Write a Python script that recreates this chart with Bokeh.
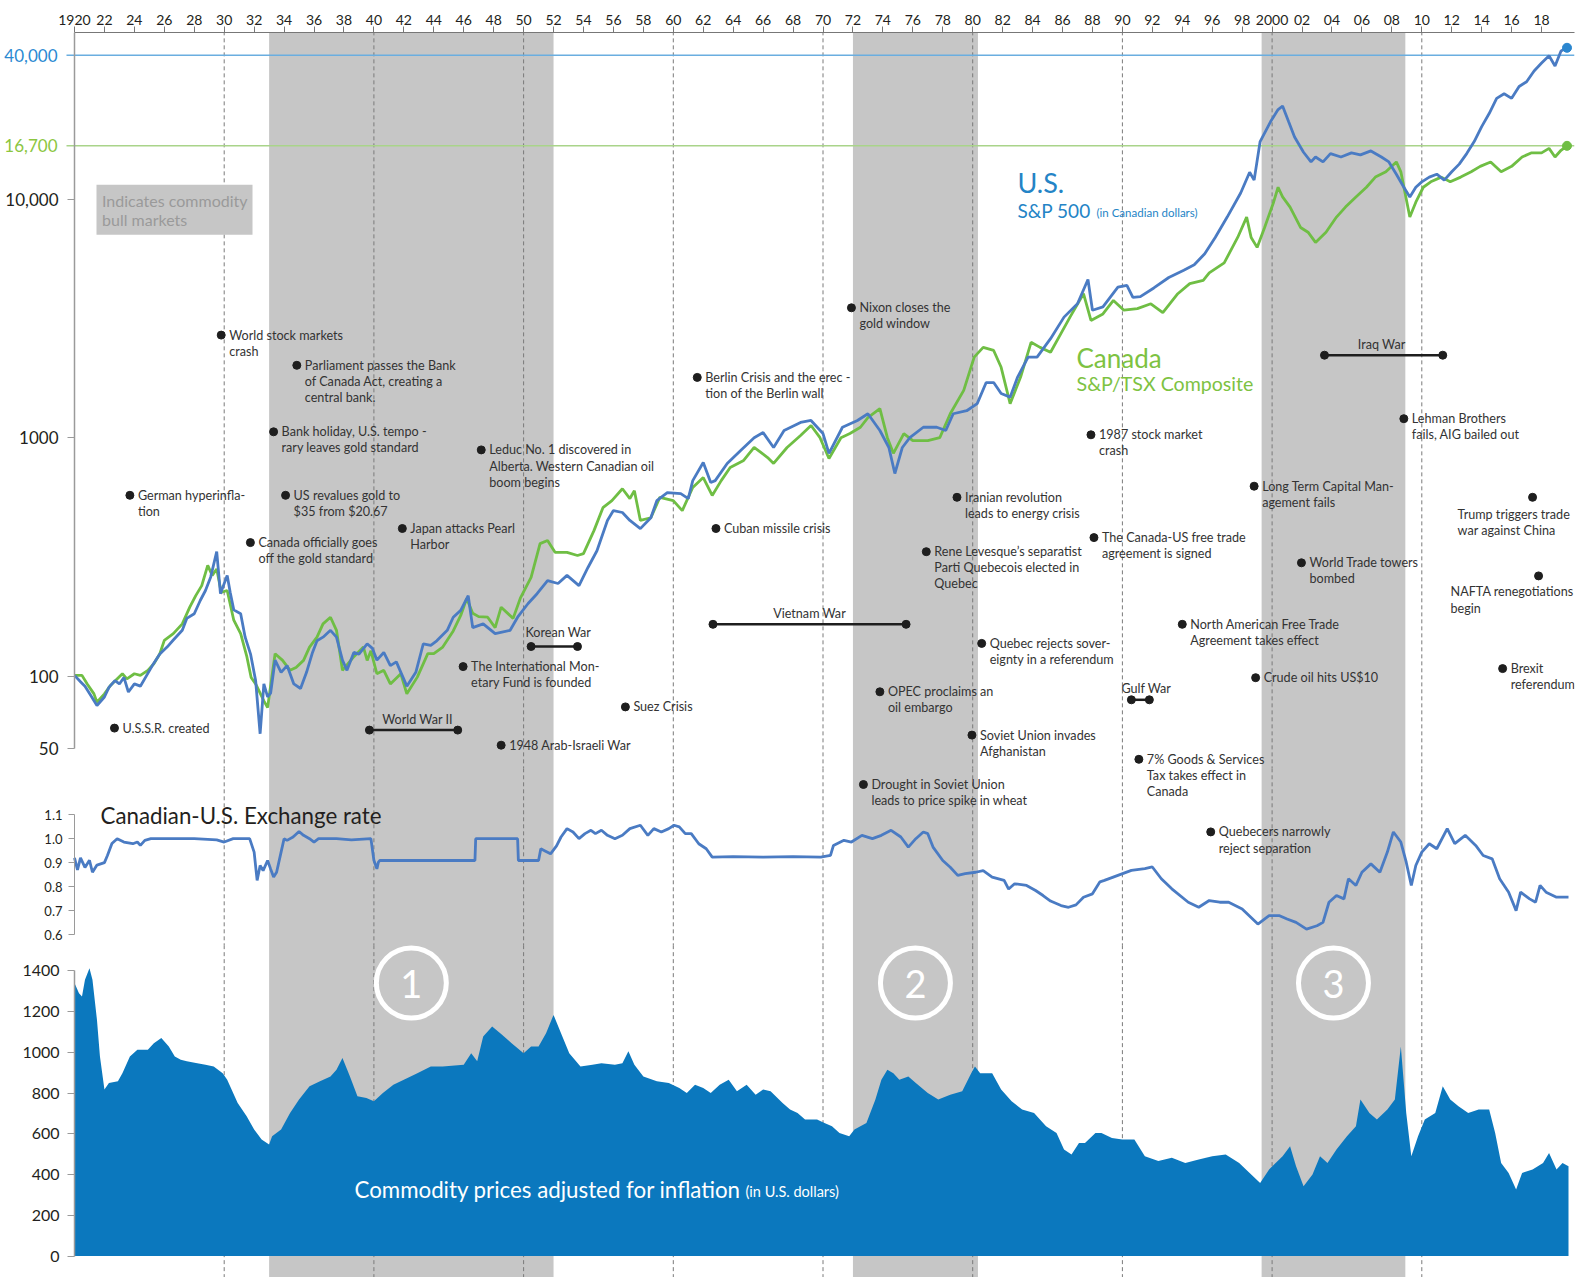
from bokeh.plotting import figure
from bokeh.models import (Range1d, LinearScale, FixedTicker,
                          ColumnDataSource, PrintfTickFormatter)
from bokeh.layouts import column
from bokeh.embed import file_html
from bokeh.resources import INLINE
from bokeh.core.properties import value

# ------------------------------------------------------------------ data
axis_years = list(range(1920, 2019, 2))
axis_labels = {y: (str(y) if y in (1920, 2000) else "%02d" % (y % 100)) for y in axis_years}
decade_lines = [1930, 1940, 1950, 1960, 1970, 1980, 1990, 2000, 2010]
bull_start = [1933.0, 1972.0, 1999.3]
bull_end = [1952.0, 1980.35, 2008.9]
bull_labels = ["1", "2", "3"]

ref_levels = [40000, 16700]
ref_labels = ["40,000", "16,700"]

us_year = [1920.0, 1920.4, 1920.7, 1921.1, 1921.5, 1922.0, 1922.3, 1922.7, 1923.0, 1923.3,
           1923.6, 1924.0, 1924.4, 1924.9, 1925.2, 1925.7, 1926.2, 1926.6, 1927.2, 1927.5,
           1928.0, 1928.4, 1928.75, 1929.1, 1929.5, 1929.75, 1930.2, 1930.4, 1930.64, 1931.1,
           1931.4, 1931.76, 1932.1, 1932.4, 1932.65, 1932.9, 1933.1, 1933.4, 1933.8, 1934.2,
           1934.65, 1935.1, 1935.5, 1935.9, 1936.2, 1936.6, 1937.1, 1937.5, 1937.9, 1938.2,
           1938.66, 1939.0, 1939.55, 1939.9, 1940.2, 1940.66, 1941.1, 1941.5, 1941.8, 1942.2,
           1942.8, 1943.3, 1943.8, 1944.2, 1944.9, 1945.3, 1945.8, 1946.3, 1946.6, 1947.3,
           1948.1, 1949.1, 1949.6, 1950.3, 1950.9, 1951.6, 1952.3, 1952.9, 1953.7, 1954.3,
           1954.9, 1955.6, 1956.0, 1956.6, 1957.1, 1957.8, 1958.5, 1958.9, 1959.6, 1960.5,
           1961.0, 1961.3, 1962.0, 1962.5, 1962.8, 1963.6, 1964.5, 1965.4, 1966.0, 1966.7,
           1967.4, 1968.5, 1969.2, 1970.0, 1970.4, 1971.3, 1972.3, 1973.0, 1973.8, 1974.4,
           1974.8, 1975.3, 1975.8, 1976.7, 1977.6, 1978.2, 1978.7, 1979.6, 1980.3, 1980.9,
           1981.4, 1981.9, 1982.5, 1983.0, 1983.7, 1984.3, 1985.2, 1986.1, 1987.0, 1987.7,
           1988.0, 1988.7, 1989.7, 1990.3, 1990.7, 1991.2, 1992.1, 1993.1, 1994.1, 1994.8,
           1995.5, 1996.2, 1997.0, 1997.9, 1998.5, 1998.8, 1999.2, 1999.9, 2000.4, 2000.7,
           2001.1, 2001.5, 2002.1, 2002.6, 2002.9, 2003.4, 2003.9, 2004.6, 2005.3, 2005.9,
           2006.6, 2007.3, 2007.8, 2008.3, 2008.8, 2009.2, 2009.6, 2010.0, 2010.5, 2011.0,
           2011.5, 2012.0, 2012.5, 2013.0, 2013.5, 2014.0, 2014.5, 2015.0, 2015.5, 2016.0,
           2016.5, 2017.0, 2017.5, 2018.0, 2018.5, 2018.9, 2019.3, 2019.7]
us_value = [101, 95, 91, 83, 75.5, 82, 90, 96, 93, 99,
            86, 93, 91, 103, 111, 124, 133, 142, 156, 175,
            183, 208, 229, 261, 333, 222, 265, 225, 190, 183,
            146, 124, 96, 57.5, 93, 82, 85, 117, 104, 111,
            93, 89, 104, 126, 141, 146, 156, 146, 117, 106,
            126, 124, 137, 131, 117, 126, 111, 115, 104, 91,
            104, 137, 135, 141, 156, 177, 189, 218, 160, 166,
            151, 156, 177, 202, 222, 252, 245, 265, 240, 286,
            336, 450, 495, 486, 450, 416, 462, 545, 589, 583,
            556, 661, 787, 649, 661, 780, 884, 1000, 1051, 910,
            1072, 1158, 1181, 1041, 860, 1106, 1181, 1260, 1072, 910,
            708, 910, 1000, 1106, 1106, 1072, 1260, 1297, 1389, 1702,
            1702, 1531, 1479, 1795, 2175, 2175, 2600, 3200, 3640, 4600,
            3420, 3530, 4270, 4350, 3870, 3900, 4240, 4690, 5030, 5300,
            5900, 6900, 8400, 10600, 12950, 12000, 17400, 21100, 23700, 24500,
            21100, 18200, 15700, 14300, 15000, 14300, 15500, 15000, 15600, 15300,
            15900, 15000, 14300, 12700, 11200, 10200, 11200, 11800, 12350, 12700,
            12000, 13000, 14000, 15500, 17400, 20100, 22800, 26400, 27600, 26400,
            29600, 31000, 34400, 37100, 39800, 36100, 41700, 43000]

ca_year = [1920.0, 1920.5, 1920.85, 1921.3, 1921.5, 1922.0, 1922.4, 1923.2, 1923.5, 1924.0,
           1924.4, 1924.9, 1925.3, 1925.7, 1926.0, 1926.6, 1927.2, 1927.7, 1928.1, 1928.5,
           1928.9, 1929.2, 1929.5, 1929.8, 1930.2, 1930.64, 1931.1, 1931.5, 1931.8, 1932.1,
           1932.65, 1932.9, 1933.4, 1933.9, 1934.4, 1934.8, 1935.3, 1935.7, 1936.2, 1936.6,
           1937.1, 1937.5, 1937.9, 1938.66, 1939.3, 1939.55, 1939.8, 1940.2, 1940.66, 1941.1,
           1941.8, 1942.2, 1942.9, 1943.6, 1944.0, 1944.6, 1945.3, 1945.8, 1946.2, 1946.6,
           1947.0, 1947.6, 1948.1, 1948.5, 1949.3, 1949.8, 1950.5, 1951.1, 1951.6, 1952.1,
           1952.9, 1953.6, 1954.0, 1954.7, 1955.3, 1955.9, 1956.6, 1957.1, 1957.4, 1957.8,
           1958.5, 1959.1, 1960.0, 1960.6, 1961.3, 1962.0, 1962.6, 1963.2, 1963.8, 1964.7,
           1965.4, 1966.3, 1966.7, 1967.6, 1968.5, 1969.2, 1969.8, 1970.4, 1971.2, 1971.8,
           1972.5, 1973.0, 1973.8, 1974.3, 1974.7, 1975.4, 1976.0, 1977.0, 1977.8, 1978.5,
           1979.4, 1980.1, 1980.7, 1981.4, 1981.9, 1982.5, 1983.2, 1983.9, 1984.5, 1985.2,
           1985.9, 1986.5, 1987.4, 1987.9, 1988.7, 1989.4, 1990.1, 1991.0, 1991.9, 1992.7,
           1993.7, 1994.5, 1995.4, 1995.8, 1996.8, 1997.7, 1998.3, 1998.6, 1999.0, 1999.5,
           2000.1, 2000.4, 2000.7, 2001.2, 2001.9, 2002.4, 2002.9, 2003.6, 2004.3, 2004.9,
           2005.6, 2006.3, 2006.9, 2007.6, 2008.3, 2008.6, 2009.2, 2009.6, 2010.1, 2010.6,
           2011.3, 2011.9, 2012.6, 2013.3, 2013.9, 2014.6, 2015.3, 2016.0, 2016.7, 2017.3,
           2018.0, 2018.5, 2018.9, 2019.3, 2019.7]
ca_value = [101, 101, 93, 84.5, 78, 84.5, 91.6, 102.6, 97.7, 102.6,
            101, 106, 113, 124.5, 141.6, 151, 166, 195, 218, 240,
            292, 265, 282, 225, 229, 172, 151, 122, 99, 93,
            79, 74, 124.5, 116.7, 106, 109, 116.7, 132.7, 146, 166,
            177, 156, 106, 121, 132.7, 116.7, 128, 102.6, 106, 93,
            102.6, 84.5, 99.3, 124.5, 124.5, 132.7, 155, 180, 212, 184,
            178, 177, 160, 195, 175, 214, 260, 360, 371, 331,
            331, 321, 327, 408, 509, 545, 611, 556, 600, 450,
            462, 562, 545, 495, 619, 681, 573, 661, 750, 803,
            910, 826, 780, 910, 1021, 1125, 1000, 818, 1000, 1041,
            1106, 1213, 1324, 1000, 860, 1041, 973, 973, 1000, 1260,
            1578, 2175, 2390, 2320, 1972, 1389, 1795, 2510, 2390, 2280,
            2737, 3200, 4010, 3100, 3300, 3760, 3420, 3475, 3640, 3340,
            4010, 4420, 4560, 4900, 5400, 6900, 8400, 6900, 6270, 7600,
            9700, 11200, 10200, 9250, 7600, 7260, 6580, 7260, 8400, 9250,
            10200, 11200, 12350, 13000, 14300, 13000, 8400, 9700, 11200, 11800,
            12350, 11800, 12350, 13000, 13700, 14300, 13000, 13700, 15000, 15600,
            15600, 16300, 15000, 16000, 16700]

fx_year = [1920.0, 1920.2, 1920.4, 1920.7, 1921.0, 1921.2, 1921.5, 1922.0, 1922.2, 1922.5,
           1922.85, 1923.3, 1923.9, 1924.2, 1924.4, 1924.7, 1925.1, 1926.5, 1928.0, 1929.5,
           1930.0, 1930.6, 1931.7, 1932.0, 1932.2, 1932.4, 1932.6, 1932.9, 1933.1, 1933.3,
           1933.5, 1933.8, 1934.0, 1934.2, 1934.6, 1935.0, 1935.3, 1935.7, 1936.0, 1936.3,
           1937.5, 1938.5, 1939.8, 1940.0, 1940.2, 1940.3, 1940.4, 1946.75, 1946.8, 1949.6,
           1949.65, 1951.0, 1951.15, 1951.4, 1951.8, 1952.2, 1952.5, 1952.9, 1953.3, 1953.7,
           1954.1, 1954.5, 1954.8, 1955.2, 1955.6, 1956.1, 1956.6, 1957.1, 1957.8, 1958.3,
           1958.7, 1959.2, 1959.7, 1960.05, 1960.4, 1960.8, 1961.2, 1961.7, 1962.2, 1962.6,
           1964.0, 1966.0, 1968.0, 1969.85, 1970.5, 1970.7, 1971.4, 1971.9, 1972.6, 1973.3,
           1973.9, 1974.55, 1975.2, 1975.7, 1976.2, 1976.7, 1977.0, 1977.35, 1978.0, 1978.5,
           1979.0, 1979.5, 1980.2, 1980.7, 1981.3, 1982.1, 1982.4, 1982.8, 1983.6, 1984.2,
           1984.7, 1985.2, 1985.9, 1986.4, 1986.9, 1987.4, 1988.0, 1988.5, 1988.8, 1989.7,
           1990.6, 1991.5, 1992.0, 1992.6, 1993.3, 1994.4, 1995.1, 1995.8, 1996.5, 1997.1,
           1998.0, 1998.7, 1999.05, 1999.8, 2000.5, 2001.0, 2001.6, 2002.3, 2003.0, 2003.4,
           2003.8, 2004.3, 2004.8, 2005.1, 2005.6, 2006.0, 2006.6, 2007.2, 2007.7, 2008.1,
           2008.6, 2008.96, 2009.3, 2009.6, 2010.0, 2010.5, 2011.0, 2011.7, 2012.2, 2012.9,
           2013.6, 2014.1, 2014.7, 2015.2, 2015.8, 2016.3, 2016.6, 2017.2, 2017.6, 2017.9,
           2018.3, 2019.0, 2019.8]
fx_value = [0.92, 0.87, 0.92, 0.88, 0.91, 0.86, 0.89, 0.90, 0.93, 0.98,
            1.0, 0.986, 0.979, 0.986, 0.972, 0.993, 1.0, 1.0, 1.0, 0.995,
            0.986, 1.0, 1.0, 0.944, 0.826, 0.888, 0.867, 0.909, 0.874, 0.84,
            0.86, 0.944, 1.0, 0.993, 1.007, 1.03, 1.014, 1.0, 0.986, 1.0,
            1.0, 0.995, 1.0, 0.91, 0.874, 0.902, 0.909, 0.909, 1.0, 1.0,
            0.909, 0.909, 0.958, 0.95, 0.937, 0.97, 1.007, 1.042, 1.028, 1.0,
            1.021, 1.035, 1.021, 1.035, 1.014, 1.0, 1.014, 1.042, 1.056, 1.014,
            1.042, 1.028, 1.042, 1.056, 1.049, 1.021, 1.021, 0.979, 0.958, 0.923,
            0.925, 0.923, 0.925, 0.923, 0.93, 0.972, 0.993, 0.986, 1.014, 1.0,
            1.014, 1.035, 1.007, 0.965, 1.0, 1.028, 1.021, 0.965, 0.909, 0.881,
            0.847, 0.854, 0.86, 0.867, 0.84, 0.826, 0.79, 0.812, 0.805, 0.784,
            0.763, 0.74, 0.721, 0.714, 0.724, 0.756, 0.77, 0.82, 0.826, 0.847,
            0.868, 0.875, 0.882, 0.833, 0.791, 0.735, 0.714, 0.742, 0.735, 0.735,
            0.707, 0.665, 0.644, 0.679, 0.679, 0.665, 0.651, 0.623, 0.637, 0.651,
            0.735, 0.763, 0.749, 0.833, 0.805, 0.860, 0.895, 0.860, 0.944, 1.028,
            0.986, 0.902, 0.805, 0.888, 0.944, 0.979, 0.958, 1.042, 0.979, 1.014,
            0.972, 0.930, 0.916, 0.833, 0.777, 0.700, 0.777, 0.749, 0.735, 0.805,
            0.777, 0.756, 0.756]

cm_year = [1920.0, 1920.3, 1920.5, 1920.7, 1921.0, 1921.2, 1921.5, 1921.7, 1922.0, 1922.3,
           1922.9, 1923.2, 1923.7, 1924.2, 1924.9, 1925.3, 1925.8, 1926.3, 1926.7, 1927.1,
           1927.5, 1928.2, 1928.75, 1929.3, 1929.9, 1930.2, 1930.9, 1931.5, 1932.0, 1932.5,
           1933.0, 1933.2, 1933.8, 1934.4, 1935.0, 1935.7, 1936.4, 1937.1, 1937.5, 1937.9,
           1938.4, 1938.9, 1939.5, 1940.0, 1940.6, 1941.3, 1942.0, 1942.9, 1943.8, 1944.6,
           1946.0, 1946.5, 1946.9, 1947.3, 1947.9, 1948.5, 1949.2, 1950.0, 1950.5, 1951.0,
           1951.5, 1952.0, 1952.5, 1953.05, 1953.8, 1954.6, 1955.2, 1956.1, 1956.6, 1957.0,
           1957.4, 1958.0, 1958.9, 1959.7, 1960.4, 1960.9, 1961.45, 1962.0, 1962.5, 1963.1,
           1963.7, 1964.25, 1964.9, 1965.5, 1966.0, 1966.5, 1967.3, 1967.8, 1968.3, 1968.8,
           1969.6, 1970.1, 1970.6, 1971.1, 1971.75, 1972.1, 1972.9, 1973.5, 1973.9, 1974.3,
           1974.7, 1975.1, 1975.7, 1976.2, 1977.0, 1977.7, 1978.5, 1979.3, 1979.9, 1980.15,
           1980.5, 1981.3, 1981.9, 1982.6, 1983.3, 1984.1, 1984.9, 1985.6, 1986.1, 1986.6,
           1987.1, 1987.5, 1988.2, 1988.6, 1989.3, 1990.0, 1990.8, 1991.5, 1992.4, 1993.3,
           1994.2, 1995.1, 1996.0, 1996.9, 1997.8, 1998.5, 1999.2, 1999.8, 2000.7, 2001.2,
           2001.6, 2002.1, 2002.7, 2003.2, 2003.7, 2004.3, 2005.0, 2005.6, 2005.9, 2006.5,
           2007.0, 2007.7, 2008.2, 2008.6, 2008.96, 2009.3, 2009.75, 2010.2, 2010.9, 2011.4,
           2011.9, 2012.45, 2013.1, 2013.8, 2014.5, 2014.9, 2015.3, 2015.8, 2016.3, 2016.7,
           2017.4, 2018.1, 2018.5, 2019.0, 2019.4, 2019.8]
cm_value = [1340, 1290, 1274, 1356, 1413, 1356, 1160, 980, 817, 850,
            858, 898, 980, 1013, 1013, 1045, 1070, 1029, 980, 964,
            956, 947, 939, 931, 898, 866, 751, 686, 621, 572,
            547, 588, 621, 702, 768, 833, 858, 882, 915, 972,
            882, 784, 776, 760, 800, 841, 866, 898, 931, 931,
            939, 996, 956, 1078, 1127, 1090, 1045, 996, 1029, 1029,
            1094, 1184, 1094, 996, 931, 939, 947, 939, 947, 1005,
            939, 882, 858, 850, 825, 800, 841, 825, 800, 841,
            866, 809, 841, 792, 817, 809, 751, 719, 702, 670,
            670, 653, 637, 604, 588, 621, 653, 768, 866, 915,
            898, 866, 882, 850, 800, 768, 792, 809, 898, 931,
            898, 898, 817, 760, 719, 702, 637, 604, 523, 498,
            555, 555, 604, 604, 580, 572, 572, 490, 466, 482,
            457, 474, 490, 498, 457, 408, 359, 425, 490, 539,
            441, 343, 400, 490, 457, 523, 588, 637, 768, 702,
            670, 719, 768, 1029, 702, 490, 588, 670, 702, 833,
            768, 735, 702, 719, 719, 604, 457, 408, 327, 408,
            425, 457, 506, 425, 457, 441]

war_names = ["World War II", "Korean War", "Vietnam War", "Gulf War", "Iraq War"]
war_start = [1939.7, 1950.5, 1962.65, 1990.6, 2003.5]
war_end = [1945.6, 1953.6, 1975.55, 1991.8, 2011.4]

event_year = [1929.8, 1934.85, 1933.3, 1947.17, 1923.7, 1934.1, 1941.9, 1931.75, 1945.96, 1922.67,
              1956.8, 1948.5, 1961.6, 1962.85, 1971.9, 1978.95, 1976.9, 1980.6, 1973.8, 1979.95,
              1972.7, 1987.9, 1988.1, 1994.0, 1991.1, 1998.8, 2001.96, 1998.9, 2008.8, 2017.4,
              2017.8, 2015.4, 1995.9]
event_text = [
    "World stock markets\ncrash",
    "Parliament passes the Bank\nof Canada Act, creating a\ncentral bank.",
    "Bank holiday, U.S. tempo -\nrary leaves gold standard",
    "Leduc No. 1 discovered in\nAlberta. Western Canadian oil\nboom begins",
    "German hyperinfla-\ntion",
    "US revalues gold to\n$35 from $20.67",
    "Japan attacks Pearl\nHarbor",
    "Canada officially goes\noff the gold standard",
    "The International Mon-\netary Fund is founded",
    "U.S.S.R. created",
    "Suez Crisis",
    "1948 Arab-Israeli War",
    "Berlin Crisis and the erec -\ntion of the Berlin wall",
    "Cuban missile crisis",
    "Nixon closes the\ngold window",
    "Iranian revolution\nleads to energy crisis",
    "Rene Levesque\u2019s separatist\nParti Quebecois elected in\nQuebec",
    "Quebec rejects sover-\neignty in a referendum",
    "OPEC proclaims an\noil embargo",
    "Soviet Union invades\nAfghanistan",
    "Drought in Soviet Union\nleads to price spike in wheat",
    "1987 stock market\ncrash",
    "The Canada-US free trade\nagreement is signed",
    "North American Free Trade\nAgreement takes effect",
    "7% Goods & Services\nTax takes effect in\nCanada",
    "Long Term Capital Man-\nagement fails",
    "World Trade towers\nbombed",
    "Crude oil hits US$10",
    "Lehman Brothers\nfails, AIG bailed out",
    "Trump triggers trade\nwar against China",
    "NAFTA renegotiations\nbegin",
    "Brexit\nreferendum",
    "Quebecers narrowly\nreject separation",
]

# ------------------------------------------------------------------ layout / style
FONT = "Lato"
W = 1576
FL, FR = 74, 1574                 # x of 1920 / frame right (page px)
PX_PER_YEAR = 14.97
A_T, A_B = 32, 768                # stock panel canvas frame (page px)
B_T, B_B = 767, 945               # exchange panel (overlaps A by 1px, drawn beneath it)
C_T, C_B = 944, 1277              # commodity panel (overlaps B by 1px)
SPLIT_AB, SPLIT_BC = 767, 944
Y10K, DECADE = 198.5, 238.7       # page px of 10,000 and px per decade
FX11, FX_PX = 814.2, 239.8        # page px of 1.1 and px per 1.0
CM0, CM_PX = 1255.5, 285.1 / 1400 # page px of 0 and px per unit

US_BLUE = "#4a7bc3"
CA_GREEN = "#6fbe44"
AREA = "#0b78be"
BAND = "#c6c6c6"
DASH = "#7a7a7a"
TXT = "#333333"
AXC = "#9a9a9a"
DARK = "#231f20"
DOT = "#1e1e1e"
ANN_SIZE = "12.6px"

ev_ypx = [334.6, 364.8, 431.3, 449.4, 494.8, 494.8, 528.0, 542.1, 666.1, 727.6,
          706.4, 744.7, 376.9, 528.0, 307.3, 496.8, 551.2, 642.9, 691.3, 734.6,
          784.0, 434.3, 537.1, 623.8, 758.8, 485.7, 562.3, 677.2, 418.2, 496.8,
          575.4, 668.1, 831.4]
ev_dx = [8] * len(event_year)
ev_dy = [0] * len(event_year)
ev_dx[29], ev_dy[29] = -75, 17
ev_dx[30], ev_dy[30] = -88, 16
LINE_H = 16.1

war_ypx = [729.6, 646.0, 623.8, 699.3, 354.7]
war_label_ypx = [718.5, 631.8, 612.7, 688.3, 343.6]
war_label_dx = [4, 4, 0, 6, -2]

X0 = 1920.0
xr = Range1d(X0 - FL / PX_PER_YEAR, X0 + (FR - FL) / PX_PER_YEAR)


def base_fig(height, ylo, yhi, blo, bhi, f_top, f_bot, log=False, above=False, top_border=0):
    p = figure(width=W, height=height, x_range=xr, y_range=Range1d(ylo, yhi),
               y_axis_type="log" if log else "linear",
               x_axis_location="above" if above else None,
               output_backend="svg", toolbar_location=None,
               min_border_left=0, min_border_right=W - FR,
               min_border_top=top_border, min_border_bottom=0)
    p.outline_line_color = None
    p.background_fill_color = "white"
    p.border_fill_color = "white"
    p.xgrid.visible = False
    p.ygrid.visible = False
    p.extra_x_ranges = {"px": Range1d(0, FR)}
    p.extra_y_ranges = {"py": Range1d(f_bot, f_top)}
    p.extra_x_scales = {"px": LinearScale()}
    p.extra_y_scales = {"py": LinearScale()}
    # bands / decade lines overshoot the frame so the panels join seamlessly
    n = len(bull_start)
    p.quad(left=bull_start, right=bull_end, top=[bhi] * n, bottom=[blo] * n,
           fill_color=BAND, line_color=None)
    m = len(decade_lines)
    p.segment(x0=decade_lines, x1=decade_lines, y0=[blo] * m, y1=[bhi] * m,
              line_color=DASH, line_width=1, line_dash="4 3")
    return p


def style_yaxis(ax, ticks, size, bounds, standoff=8):
    ax.fixed_location = X0
    ax.ticker = FixedTicker(ticks=ticks)
    ax.bounds = bounds
    ax.major_label_text_font = FONT
    ax.major_label_text_font_size = size
    ax.major_label_text_color = DARK
    ax.axis_line_color = AXC
    ax.axis_line_width = 1.5
    ax.major_tick_line_color = AXC
    ax.minor_tick_line_color = None
    ax.major_tick_in = 0
    ax.major_tick_out = 7
    ax.major_label_standoff = standoff


def px_text(p, items, color, align="left"):
    # items: (text, page_x, page_y, size)
    for t, x, y, s in items:
        p.text(x=[x], y=[y], text=[t], x_range_name="px", y_range_name="py",
               text_font=value(FONT), text_font_size=s, text_color=color,
               text_align=align, text_baseline="middle")


def add_events(p, top, bottom):
    xs, ys, ts, xo = [], [], [], []
    dx_, dy_ = [], []
    for yr, txt, ypx, dx, dy in zip(event_year, event_text, ev_ypx, ev_dx, ev_dy):
        if top <= ypx < bottom:
            dx_.append(yr)
            dy_.append(ypx)
        for i, line in enumerate(txt.split("\n")):
            yy = ypx + dy + i * LINE_H
            if top <= yy < bottom:
                xs.append(yr)
                ys.append(yy)
                ts.append(line)
                xo.append(dx)
    src = ColumnDataSource(dict(x=xs, y=ys, t=ts, xo=xo))
    p.text(x="x", y="y", text="t", x_offset="xo", source=src, y_range_name="py",
           text_font=value(FONT), text_font_size=ANN_SIZE, text_color=TXT,
           text_baseline="middle")
    if dx_:
        p.scatter(x=dx_, y=dy_, y_range_name="py", size=8, color=DOT)


# ------------------------------------------------------------------ panel A : stock indices
a_lo = 10 ** (4 - (A_B - Y10K) / DECADE)
a_hi = 10 ** (4 + (Y10K - A_T) / DECADE)
pa = base_fig(A_B, a_lo, a_hi, a_lo / 2, a_hi * 2, A_T, A_B, log=True, above=True,
              top_border=A_T)

xa = pa.xaxis[0]
xa.ticker = FixedTicker(ticks=axis_years)
xa.major_label_overrides = axis_labels
xa.bounds = (X0, xr.end)
xa.major_label_text_font = FONT
xa.major_label_text_font_size = "14px"
xa.major_label_text_color = DARK
xa.axis_line_color = "#777777"
xa.major_tick_line_color = "#777777"
xa.minor_tick_line_color = None
xa.major_tick_in = 0
xa.major_tick_out = 6
xa.major_label_standoff = 2

ya = pa.yaxis[0]
style_yaxis(ya, [50, 100, 1000, 10000], "17px", (50, a_hi), standoff=9)
ya.major_label_overrides = {50: "50", 100: "100", 1000: "1000", 10000: "10,000"}

ref_line_colors = ["#6aaee0", "#a9d48a"]
ref_text_colors = ["#2b8ad2", "#8cc63f"]
for lvl, lab, lc, tc in zip(ref_levels, ref_labels, ref_line_colors, ref_text_colors):
    pa.segment(x0=[X0 - 8 / PX_PER_YEAR], x1=[xr.end], y0=[lvl], y1=[lvl],
               line_color=lc, line_width=1.5)
    pa.text(x=[X0 - 17 / PX_PER_YEAR], y=[lvl], text=[lab], text_align="right",
            text_baseline="middle", text_color=tc, text_font=value(FONT),
            text_font_size="17px")

# legend box
pa.quad(left=[96], right=[252], top=[184.3], bottom=[234.3], x_range_name="px",
        y_range_name="py", fill_color=BAND, line_color=None)
px_text(pa, [("Indicates commodity", 101.5, 199.5, "16px"),
             ("bull markets", 101.5, 218.5, "16px")], "#9a9a9a")

pa.line(ca_year, ca_value, line_color=CA_GREEN, line_width=2.8)
pa.line(us_year, us_value, line_color=US_BLUE, line_width=2.8)
pa.scatter([ca_year[-1]], [ca_value[-1]], size=9, color=CA_GREEN)
pa.scatter([us_year[-1]], [us_value[-1]], size=9, color="#2a86cf")

px_text(pa, [("U.S.", 1017, 182, "27px"), ("S&P 500", 1017, 210, "19px")], "#2484c6")
px_text(pa, [("(in Canadian dollars)", 1096, 212, "11.5px")], "#2484c6")
px_text(pa, [("Canada", 1076, 357, "26px"), ("S&P/TSX Composite", 1076, 383, "19.6px")],
        "#7dc242")

# wars
war_mid = [(s + e) / 2 for s, e in zip(war_start, war_end)]
pa.segment(x0=war_start, y0=war_ypx, x1=war_end, y1=war_ypx, y_range_name="py",
           line_color=DOT, line_width=2.5)
pa.scatter(war_start + war_end, war_ypx + war_ypx, y_range_name="py", size=8, color=DOT)
pa.text(x=war_mid, y=war_label_ypx, text=war_names, x_offset=war_label_dx,
        y_range_name="py", text_font=value(FONT), text_font_size=ANN_SIZE,
        text_color=TXT, text_align="center", text_baseline="middle")

add_events(pa, A_T, SPLIT_AB)

# ------------------------------------------------------------------ panel B : exchange rate
b_lo = 1.1 - (B_B - FX11) / FX_PX
b_hi = 1.1 + (FX11 - B_T) / FX_PX
pb = base_fig(B_B - B_T, b_lo, b_hi, b_lo - 1, b_hi + 1, B_T, B_B)
yb = pb.yaxis[0]
style_yaxis(yb, [0.6, 0.7, 0.8, 0.9, 1.0, 1.1], "13px", (0.6, 1.1), standoff=6)
yb.formatter = PrintfTickFormatter(format="%.1f")
yb.axis_line_width = 1
yb.major_tick_out = 6
pb.line(fx_year, fx_value, line_color=US_BLUE, line_width=2.8)
px_text(pb, [("Canadian-U.S. Exchange rate", 100, 814.5, "22.3px")], DARK)
add_events(pb, SPLIT_AB, SPLIT_BC)

# ------------------------------------------------------------------ panel C : commodities
c_lo = -(C_B - CM0) / CM_PX
c_hi = (CM0 - C_T) / CM_PX
pc = base_fig(C_B - C_T, c_lo, c_hi, c_lo - 1000, c_hi + 1000, C_T, C_B)
yc = pc.yaxis[0]
style_yaxis(yc, list(range(0, 1401, 200)), "16px", (0, 1400))
pc.varea(x=cm_year, y1=[0] * len(cm_year), y2=cm_value, fill_color=AREA)

bull_mid = [(s + e) / 2 for s, e in zip(bull_start, bull_end)]
pc.scatter(bull_mid, [982.5] * 3, y_range_name="py", marker="circle", size=70,
           fill_color=None, line_color="white", line_width=5)
pc.text(x=bull_mid, y=[983.5] * 3, text=bull_labels, y_range_name="py",
        text_font=value(FONT), text_font_size="38px", text_color="white",
        text_align="center", text_baseline="middle")
px_text(pc, [("Commodity prices adjusted for inflation", 354, 1189, "22.3px")], "white")
px_text(pc, [("(in U.S. dollars)", 745, 1191, "14.5px")], "white")

# panels overlap by one pixel; the upper panel is stacked on top to hide the seam
pa.styles = {"position": "relative", "z-index": "3"}
pb.styles = {"position": "relative", "z-index": "2"}
pc.styles = {"position": "relative", "z-index": "1"}
pb.margin = (-1, 0, 0, 0)
pc.margin = (-1, 0, 0, 0)

layout = column(pa, pb, pc)
open("out.html", "w").write(file_html(layout, INLINE))
